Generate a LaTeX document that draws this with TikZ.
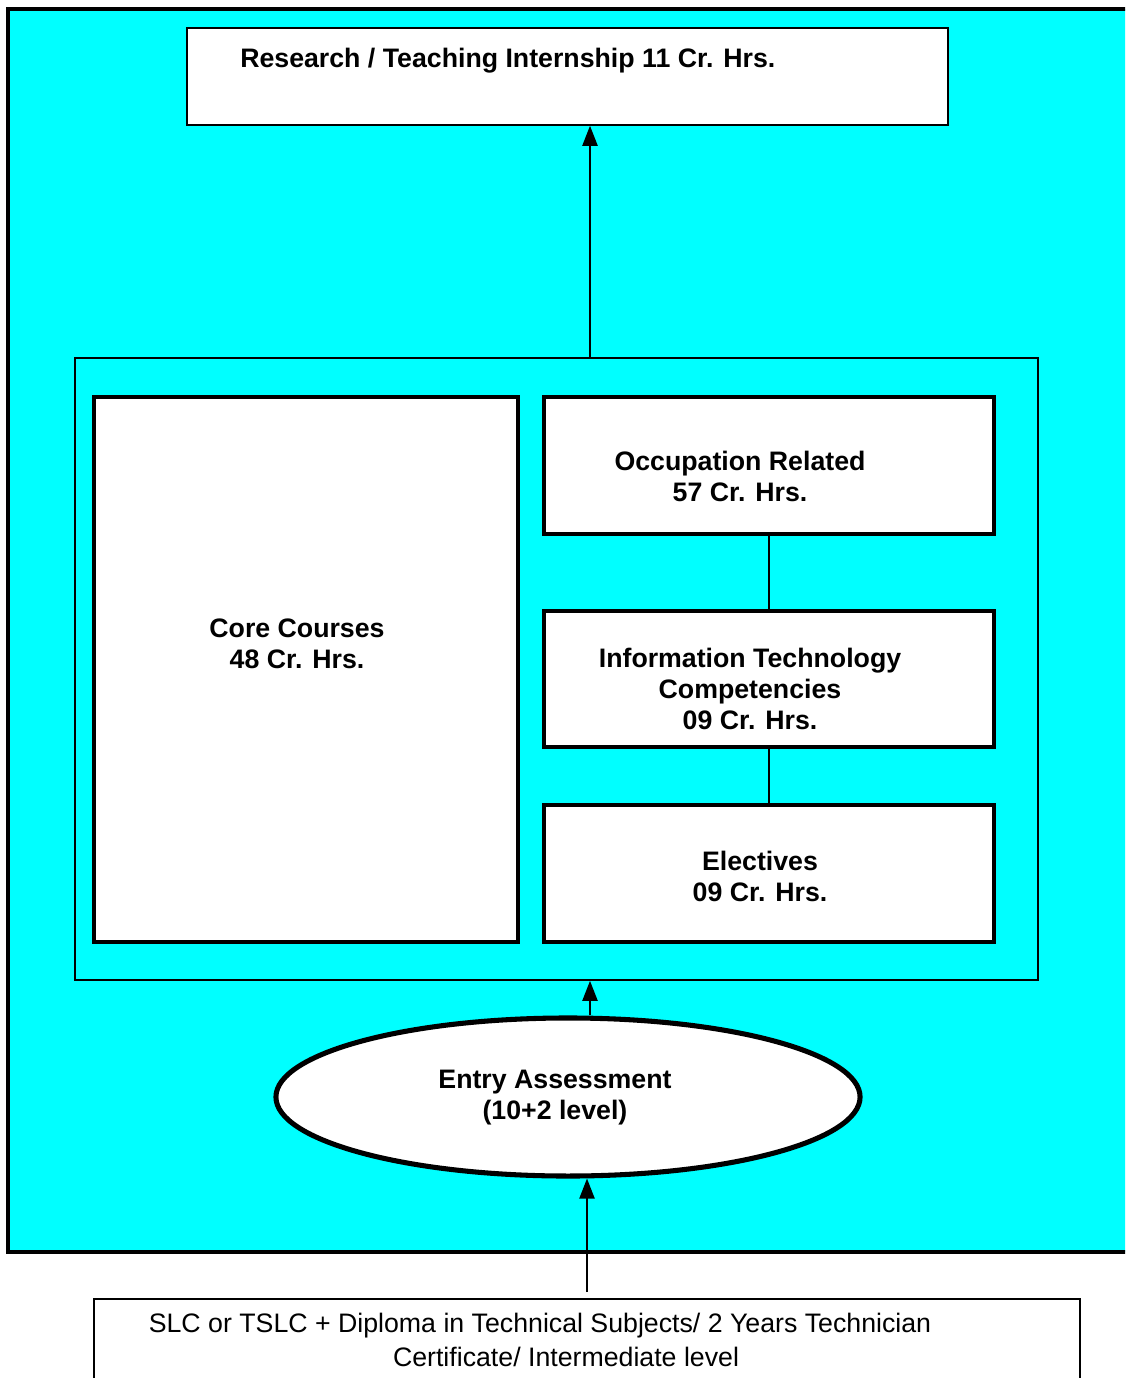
\documentclass[tikz,border=0pt]{standalone}
\usepackage{fontspec}
\setmainfont{Liberation Sans}
\usetikzlibrary{arrows.meta,shapes.geometric}
\definecolor{aqua}{RGB}{0,255,255}

\begin{document}
\begin{tikzpicture}[x=0.025cm, y=-0.025cm,
  panel/.style={draw, fill=white, line width=1.1pt, inner sep=0pt},
  coursebox/.style={draw, fill=white, line width=2.9pt, inner sep=0pt, minimum width=11.25cm},
  boldtxt/.style={font=\fontsize{19}{22}\selectfont\bfseries, align=center, inner sep=0pt},
  plaintxt/.style={font=\fontsize{19}{22}\selectfont, inner sep=0pt},
  arr/.style={-{Triangle[length=0.5cm,width=0.38cm]}, line width=1.1pt}]
  \clip (0,0) rectangle (1125,1378);
  % outer programme area
  \draw[fill=aqua, line width=2.2pt] (8,9) rectangle (1140,1252);
  % internship
  \node[panel, minimum width=19.025cm, minimum height=2.425cm] (intern) at (567.5,76.5) {};
  \node[boldtxt, anchor=west] (interntxt) at (240,61) {Research / Teaching Internship 11 Cr. Hrs.};
  % course blocks
  \node[draw, fill=aqua, line width=1.1pt, inner sep=0pt, minimum width=24.075cm, minimum height=15.55cm] (frame) at (556.5,669) {};
  \node[coursebox, minimum width=10.6cm, minimum height=13.625cm] (core) at (306,669.5) {};
  \node[coursebox, minimum height=3.425cm] (occ) at (769,465.5) {};
  \node[coursebox, minimum height=3.4cm] (itc) at (769,679) {};
  \node[coursebox, minimum height=3.425cm] (elec) at (769,873.5) {};
  \node[boldtxt] (coretxt) at (297,643.5) {Core Courses\\48 Cr. Hrs.};
  \node[boldtxt] (occtxt) at (740,476.5) {Occupation Related\\57 Cr. Hrs.};
  \node[boldtxt] (ittxt) at (750,689) {Information Technology\\Competencies\\09 Cr. Hrs.};
  \node[boldtxt] (electxt) at (760,876.5) {Electives\\09 Cr. Hrs.};
  \draw[line width=1.1pt] (occ.south) -- (itc.north);
  \draw[line width=1.1pt] (itc.south) -- (elec.north);
  % entry
  \node[draw, ellipse, fill=white, line width=3.6pt, inner sep=0pt, minimum width=14.6cm, minimum height=3.95cm] (entry) at (568,1097) {};
  \node[boldtxt] (entrytxt) at (555,1097.5) {Entry Assessment\\(10+2 level)};
  % admission
  \node[panel, minimum width=24.65cm, minimum height=2.525cm] (base) at (587,1349.5) {};
  \node[plaintxt] (basea) at (540,1326) {SLC or TSLC + Diploma in Technical Subjects/ 2 Years Technician};
  \node[plaintxt] (baseb) at (566,1357) {Certificate/ Intermediate level};
  % arrows
  \coordinate (upx) at (590,0);
  \coordinate (lowx) at (587,0);
  \draw[arr] (frame.north -| upx) -- (intern.south -| upx);
  \draw[arr] (upx |- entry.north) -- (frame.south -| upx);
  \draw[arr, shorten <=0.15cm] (base.north -| lowx) -- (lowx |- entry.south);
\end{tikzpicture}
\end{document}
